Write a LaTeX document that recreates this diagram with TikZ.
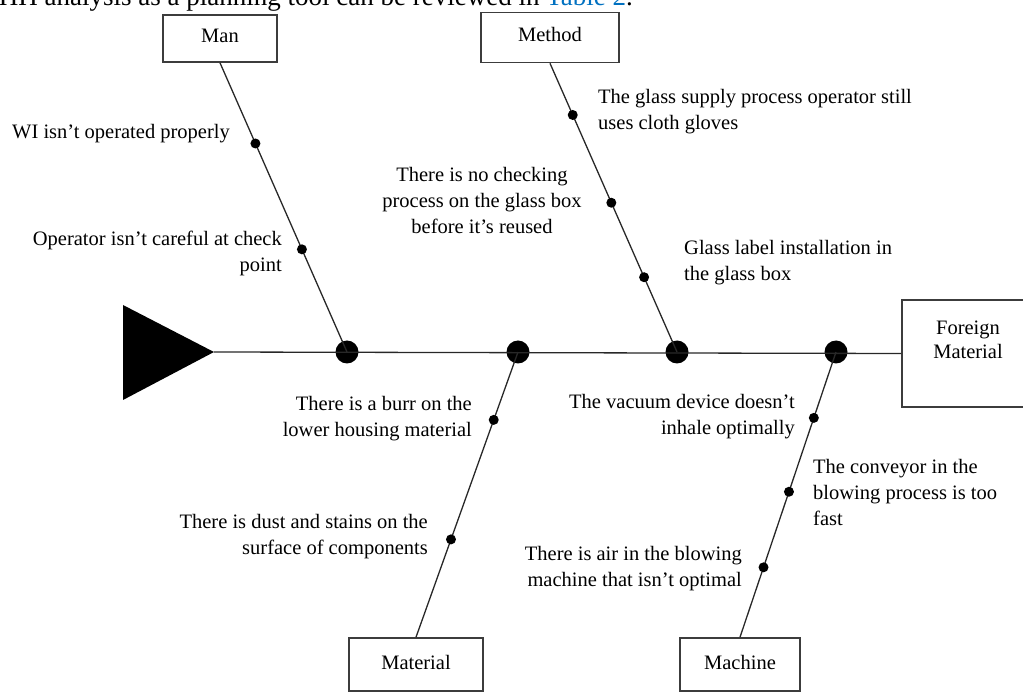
\documentclass[tikz,border=0pt]{standalone}
\usepackage{fontspec}
\setmainfont{Liberation Serif}
\usetikzlibrary{calc}
\definecolor{linkblue}{RGB}{0,112,192}
\definecolor{boxgray}{RGB}{60,60,60}
\definecolor{bonegray}{RGB}{40,40,40}
\begin{document}
\begin{tikzpicture}[x=1pt,y=-1pt,
  catbox/.style={draw=boxgray, line width=1.6pt, fill=white, inner sep=0pt,
    font=\fontsize{20.5}{24}\selectfont},
  cause/.style={inner sep=0pt, font=\fontsize{20.5}{26}\selectfont},
  bigdot/.style={circle, fill=black, minimum size=23pt, inner sep=0pt},
  smalldot/.style={circle, fill=black, minimum size=10pt, inner sep=0pt},
  bone/.style={draw=bonegray, line width=1.3pt}]
\useasboundingbox (0,0) rectangle (1023,692);

% clipped sentence at the top
\node[anchor=base east, inner sep=0pt, font=\fontsize{27}{31}\selectfont] (toptext) at (633,6)
  {HH analysis as a planning tool can be reviewed in \textcolor{linkblue}{Table 2}.};

% category boxes
\node[catbox, minimum width=114pt, minimum height=47pt] (man) at (220,38.5) {\raisebox{6pt}{Man}};
\node[catbox, minimum width=138pt, minimum height=50pt] (method) at (550,37.5) {\raisebox{7pt}{Method}};
\node[catbox, minimum width=134pt, minimum height=53pt] (mat) at (416,664.5) {\raisebox{4pt}{Material}};
\node[catbox, minimum width=120pt, minimum height=53pt] (mach) at (740,664.5) {\raisebox{4pt}{Machine}};
\node[catbox, minimum width=132pt, minimum height=107pt] (fm) at (968,353.5)
  {\raisebox{7pt}[0pt][0pt]{\begin{tabular}{@{}c@{}}Foreign\\Material\end{tabular}}};

% head triangle and spine
\coordinate (head) at (214,352);
\fill[black] (123,305) -- (head) -- (123,400) -- cycle;
\node[bigdot] (s1) at (347,352) {};
\node[bigdot] (s2) at (518,352) {};
\node[bigdot] (s3) at (677,352) {};
\node[bigdot] (s4) at (836,352) {};
\draw[bone] (head) -- (fm.west);

% branches with cause dots
\draw[bone] (man.south) -- (s1.center)
  node[smalldot, pos=0.279] (m1) {} node[smalldot, pos=0.645] (m2) {};
\draw[bone] (method.south) -- (s3.center)
  node[smalldot, pos=0.179] (d1) {} node[smalldot, pos=0.483] (d2) {}
  node[smalldot, pos=0.741] (d3) {};
\draw[bone] (s2.center) -- (mat.north)
  node[smalldot, pos=0.238] (a1) {} node[smalldot, pos=0.657] (a2) {};
\draw[bone] (s4.center) -- (mach.north)
  node[smalldot, pos=0.231] (c1) {} node[smalldot, pos=0.49] (c2) {}
  node[smalldot, pos=0.755] (c3) {};

% cause texts
\node[cause, anchor=north west] (t1) at (12,124) {WI isn’t operated properly};
\node[cause, anchor=north east, align=right] (t2) at (282,231) {Operator isn’t careful at check\\point};
\node[cause, anchor=north west, align=left] (t3) at (598,89) {The glass supply process operator still\\uses cloth gloves};
\node[cause, anchor=north, align=center] (t4) at (482,167) {There is no checking\\process on the glass box\\before it’s reused};
\node[cause, anchor=north west, align=left] (t5) at (684,240) {Glass label installation in\\the glass box};
\node[cause, anchor=north east, align=right] (t6) at (472,396) {There is a burr on the\\lower housing material};
\node[cause, anchor=north east, align=right] (t7) at (428,514) {There is dust and stains on the\\surface of components};
\node[cause, anchor=north east, align=right] (t8) at (795,394) {The vacuum device doesn’t\\inhale optimally};
\node[cause, anchor=north west, align=left] (t9) at (813,459) {The conveyor in the\\blowing process is too\\fast};
\node[cause, anchor=north east, align=right] (t10) at (742,546) {There is air in the blowing\\machine that isn’t optimal};
\end{tikzpicture}
\end{document}
